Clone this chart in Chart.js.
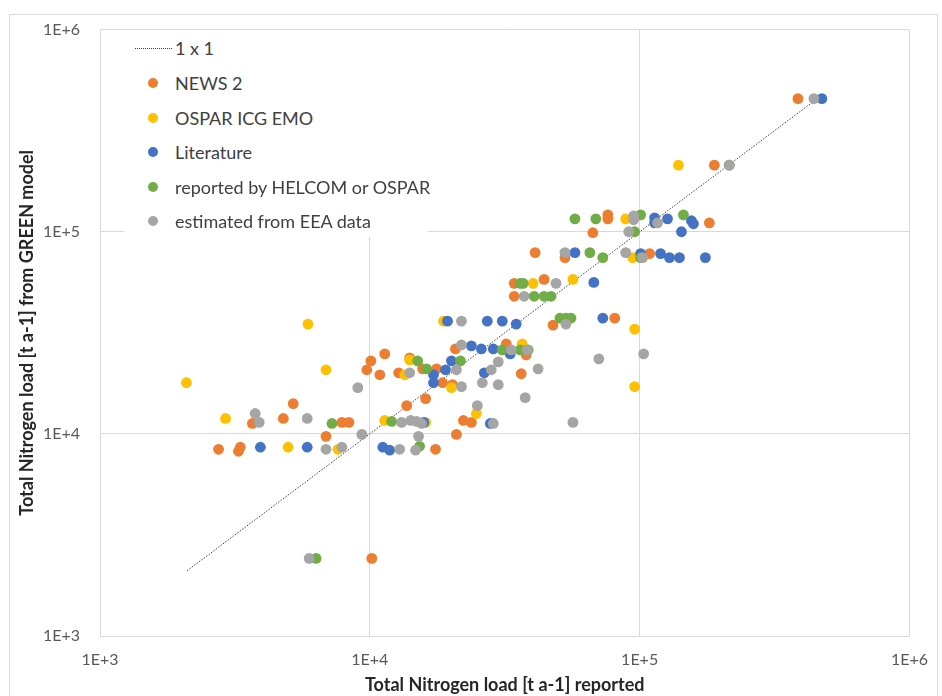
<!DOCTYPE html>
<html>
<head>
<meta charset="utf-8">
<script src="https://cdn.jsdelivr.net/npm/chart.js@4/dist/chart.umd.min.js"></script>
<style>
  html, body { margin: 0; padding: 0; background: #fff; }
  #wrap { position: relative; width: 942px; height: 696px; overflow: hidden; }
  #frame { position: absolute; left: 9px; top: 14px; width: 929px; height: 700px; border: 1px solid #d9d9d9; box-sizing: border-box; }
  canvas { position: absolute; left: 0; top: 0; }
  #legend { position: absolute; left: 124px; top: 30px; width: 304px; height: 207px; background: #fff;
            font-family: Lato, "Open Sans", sans-serif; font-size: 18px; color: #404040; }
  .item { position: absolute; left: 51px; height: 22px; line-height: 22px; white-space: nowrap; }
  .dot { position: absolute; left: 24px; width: 10px; height: 10px; border-radius: 50%; }
  .dash { position: absolute; left: 11px; width: 37px; height: 0; border-top: 1px dotted #404040; }
</style>
</head>
<body>
<div id="wrap">
  <div id="frame"></div>
  <canvas id="c" width="942" height="696"></canvas>
  <div id="legend"></div>
</div>
<script>
// ---- data (x = reported, y = GREEN model), t a-1 ----
const news2 = [
  [2750,8390],[3260,8200],[3310,8590],[3670,11260],[4780,11920],[5200,14120],[6880,9720],
  [7880,11390],[8370,11390],[9750,20750],[10090,22970],[10890,19600],[11360,24870],[10170,2420],
  [12790,20050],[14050,23760],[13700,13800],[15690,20980],[16100,14940],[17670,20980],[17520,8390],
  [18600,17910],[20240,17510],[20940,9940],[20760,26310],[22230,11650],[23790,11390],[32030,27850],
  [34280,55530],[34280,47930],[36390,19830],[37970,24590],[40990,78850],[44240,58100],[47750,34520],
  [52880,74500],[67070,98900],[76210,121200],[76210,115800],[80860,37370],[108870,77960],
  [181290,110700],[189180,213500],[386100,455500]
];
const ospar = [
  [2090,17910],[2920,11920],[4980,8590],[5900,34910],[6880,20750],[7620,8390],[11360,11650],
  [13470,19600],[14050,23230],[16100,11390],[18760,36120],[20070,16930],[24830,12610],[36700,27850],
  [40300,55530],[56600,58100],[88780,115800],[94230,74500],[95860,32990],[95860,17120],[139270,213500]
];
const literature = [
  [3930,8590],[5860,8590],[11170,8590],[11850,8300],[15830,11390],[17220,19600],[17220,17910],
  [19080,20750],[20070,22970],[19410,36120],[27250,36120],[30960,36120],[34870,34910],[23790,27230],
  [25910,26310],[28680,26310],[33140,24870],[26570,20050],[27960,11260],[57570,78850],[67640,56150],
  [73030,37370],[113610,117200],[113610,110700],[126840,115800],[155570,113300],[158240,109500],
  [142880,100000],[100850,77960],[119530,77960],[129020,74500],[140460,74500],[175230,74500],[473500,455500]
];
const helcomOspar = [
  [6320,2420],[7240,11260],[12050,11520],[15040,22970],[16230,20980],[15290,8680],[21670,22970],
  [30960,26020],[36080,26020],[38620,26020],[36080,55530],[37010,55530],[40640,47930],[44240,47930],
  [46950,47930],[50680,37370],[53330,37370],[55650,37370],[57570,115800],[65380,78850],[68800,115800],
  [73030,74500],[95860,100000],[100850,121200],[100850,74500],[145330,121200],[214800,213500]
];
const eea = [
  [3760,12610],[3890,11390],[5860,11920],[6880,8390],[7880,8590],[9030,16930],[9340,9940],[5960,2420],
  [12900,8390],[13120,11390],[14170,11650],[14910,11520],[15560,11260],[14780,8300],[15160,9720],
  [14050,20050],[20940,20750],[21860,17120],[21860,27540],[21860,36120],[25040,13800],[26120,17910],
  [28190,20750],[29920,22710],[29920,17510],[28680,11260],[33420,26020],[38300,26020],[37650,15110],
  [42050,20980],[37330,47930],[48980,55530],[52880,78850],[53330,34910],[56600,11390],[70580,23500],
  [88780,78850],[95040,119800],[95040,114600],[91090,100000],[102590,74500],[116520,110700],
  [103460,24870],[214800,213500],[442400,455500]
];
const oneToOne = [[2100,2100],[470000,470000]];

const tickValues = [1000, 10000, 100000, 1000000];
const tickLabels = ['1E+3', '1E+4', '1E+5', '1E+6'];

const seriesNames = ['1 x 1', 'NEWS 2', 'OSPAR ICG EMO', 'Literature', 'reported by HELCOM or OSPAR', 'estimated from EEA data'];
const seriesColors = ['#404040', '#ED7D31', '#FFC000', '#4472C4', '#70AD47', '#A5A5A5'];
const seriesData = [oneToOne, news2, ospar, literature, helcomOspar, eea];

// ---- chart ----
const toPts = arr => arr.map(p => ({x: p[0], y: p[1]}));
const datasets = seriesData.map((d, i) => i === 0 ? {
  label: seriesNames[i], data: toPts(d), showLine: true, borderColor: seriesColors[i],
  borderWidth: 1, borderDash: [1.5, 1.5], pointRadius: 0, fill: false, order: 10
} : {
  label: seriesNames[i], data: toPts(d), backgroundColor: seriesColors[i], borderWidth: 0,
  pointRadius: 5.4, pointHoverRadius: 5.4, order: 10 - i
});

const setTicks = s => { s.ticks = tickValues.map(v => ({value: v})); };
const fmt = (v) => { const k = tickValues.indexOf(v); return k >= 0 ? tickLabels[k] : ''; };
const tickFont = {family: 'Lato', size: 16};
const titleFont = {family: 'Lato', size: 18, weight: 'bold'};

new Chart(document.getElementById('c'), {
  type: 'scatter',
  data: {datasets},
  options: {
    responsive: false, animation: false, events: [],
    layout: {padding: {left: 0, top: 26, right: 30, bottom: 0}},
    plugins: {legend: {display: false}, tooltip: {enabled: false}},
    scales: {
      x: {
        type: 'logarithmic', position: 'bottom', min: 1000, max: 1000000,
        afterBuildTicks: setTicks, afterFit: s => { s.height = 60; },
        grid: {color: '#d9d9d9', lineWidth: 1, drawTicks: false},
        border: {color: '#d9d9d9'},
        ticks: {callback: fmt, font: tickFont, color: '#595959', padding: 14, maxRotation: 0, autoSkip: false},
        title: {display: true, text: 'Total Nitrogen load [t a-1] reported', font: titleFont, color: '#262626', padding: {top: -2, bottom: 0}}
      },
      y: {
        type: 'logarithmic', position: 'left', min: 1000, max: 1000000,
        afterBuildTicks: setTicks, afterFit: s => { s.width = 100; },
        grid: {color: '#d9d9d9', lineWidth: 1, drawTicks: false},
        border: {color: '#d9d9d9'},
        ticks: {callback: fmt, font: tickFont, color: '#595959', padding: 20, autoSkip: false},
        title: {display: true, text: 'Total Nitrogen load [t a-1] from GREEN model', font: titleFont, color: '#262626', padding: {top: 16, bottom: 0}}
      }
    }
  }
});

// ---- legend ----
const lg = document.getElementById('legend');
const rowY = [18, 53, 88, 122, 157, 191];
seriesNames.forEach((name, i) => {
  if (i === 0) {
    const d = document.createElement('div'); d.className = 'dash';
    d.style.top = rowY[i] + 'px'; d.style.borderTopColor = seriesColors[i]; lg.appendChild(d);
  } else {
    const d = document.createElement('div'); d.className = 'dot';
    d.style.top = (rowY[i] - 5) + 'px'; d.style.background = seriesColors[i]; lg.appendChild(d);
  }
  const t = document.createElement('div'); t.className = 'item';
  t.style.top = (rowY[i] - 11) + 'px'; t.textContent = name; lg.appendChild(t);
});
</script>
</body>
</html>
